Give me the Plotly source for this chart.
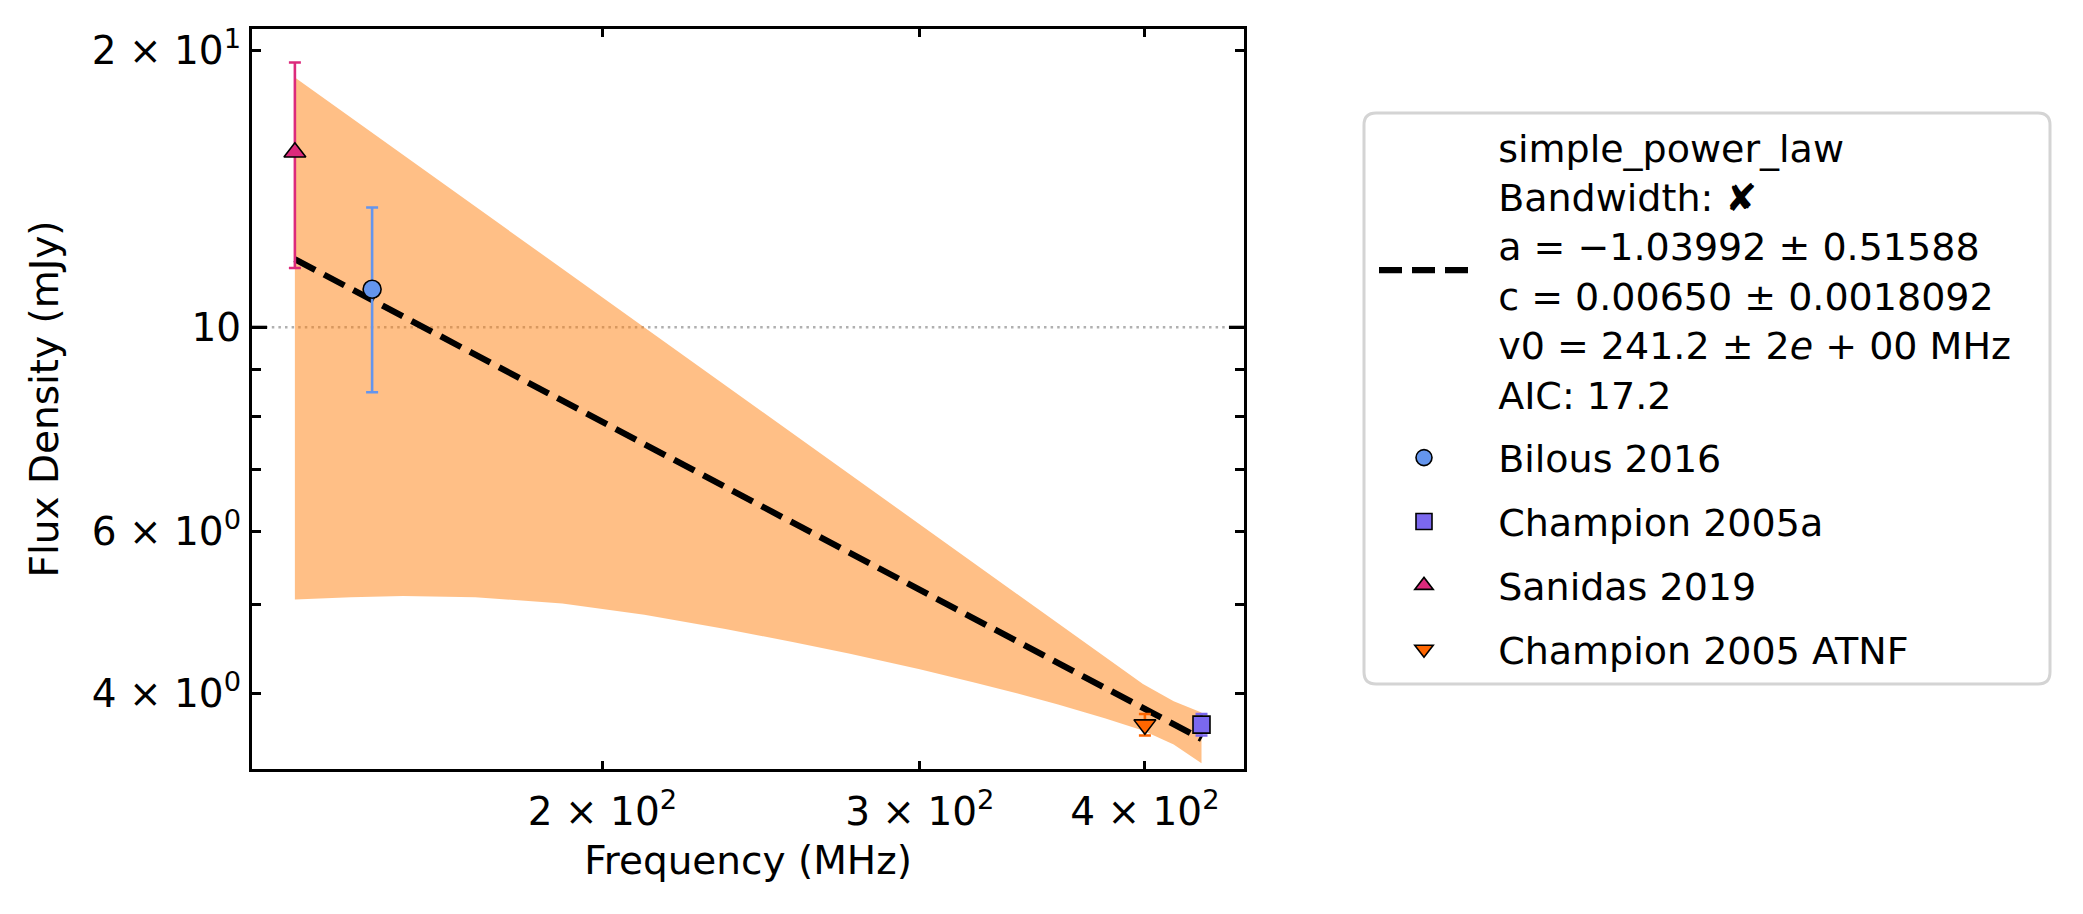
import math
import plotly.graph_objects as go

# ---------------- data ----------------
bilous_freq = [149]
bilous_flux = [11.0]
bilous_err = [2.5]

champ_a_freq = [430]
champ_a_flux = [3.7]
champ_a_err = [0.1]

sanidas_freq = [135]
sanidas_flux = [15.5]
sanidas_err = [3.9]

champ_atnf_freq = [400]
champ_atnf_flux = [3.7]
champ_atnf_err = [0.1]

fit_freq = [135, 430]
fit_flux = [11.86, 3.57]

band_freq = [135, 145, 155, 170, 190, 211, 234, 255, 274, 300, 322, 340, 358, 380, 399, 415, 430]
band_upper = [18.69, 16.91, 15.40, 13.53, 11.58, 10.0, 8.652, 7.671, 6.937, 6.108, 5.534, 5.127, 4.771, 4.387, 4.096, 3.923, 3.813]
band_lower = [5.06, 5.09, 5.105, 5.09, 5.01, 4.87, 4.70, 4.55, 4.42, 4.25, 4.11, 4.00, 3.89, 3.76, 3.645, 3.52, 3.36]

x_tickvals = [200, 300, 400]
x_ticktext = ["2 × 10<sup>2</sup>", "3 × 10<sup>2</sup>", "4 × 10<sup>2</sup>"]
y_tickvals = [4, 6, 10, 20]
y_ticktext = ["4 × 10<sup>0</sup>", "6 × 10<sup>0</sup>", "10", "2 × 10<sup>1</sup>"]
y_minor = [5, 7, 8, 9]
y_grid = 10

fit_lines = ["simple_power_law", "Bandwidth: ✘", "a = −1.03992 ± 0.51588",
             "c = 0.00650 ± 0.0018092", "v0 = 241.2 ± 2<i>e</i> + 00 MHz", "AIC: 17.2"]

x_range = [math.log10(127.8), math.log10(454)]
y_range = [math.log10(3.311), math.log10(21.10)]

FONT = "DejaVu Sans"
FS = 39
LFS = 38
PAD = "\u00a0\u00a0"  # gap between legend glyph and text

# plot area in pixels
L, R, T, B = 252, 1244, 29, 769
PW, PH = R - L, B - T


def px_x(p):
    return (p - L) / PW


def px_y(p):
    return (B - p) / PH


fig = go.Figure()

# uncertainty band
fig.add_trace(go.Scatter(
    x=band_freq + band_freq[::-1],
    y=band_upper + band_lower[::-1],
    fill="toself", fillcolor="rgba(255,127,14,0.5)",
    line=dict(width=0), mode="lines", hoverinfo="skip", showlegend=False))

# fit line
fig.add_trace(go.Scatter(
    x=fit_freq, y=fit_flux, mode="lines",
    name="<br>".join(PAD + s for s in fit_lines),
    line=dict(color="black", width=6.2, dash="23px,10px"),
    legendgroup="g0"))


def add_points(fx, fy, err, name, color, symbol, size, grp):
    fig.add_trace(go.Scatter(
        x=fx, y=fy, mode="markers", name=PAD + name, legendgroup=grp,
        marker=dict(color=color, symbol=symbol, size=size,
                    line=dict(color="black", width=1.6)),
        error_y=dict(type="data", array=err, visible=True, color=color,
                     thickness=2.6, width=6)))


add_points(bilous_freq, bilous_flux, bilous_err, "Bilous 2016", "#6495ED", "circle", 18, "g1")
add_points(champ_a_freq, champ_a_flux, champ_a_err, "Champion 2005a", "#7B68EE", "square", 17, "g2")
add_points(sanidas_freq, sanidas_flux, sanidas_err, "Sanidas 2019", "#DC2A7C", "triangle-up", 19, "g3")
add_points(champ_atnf_freq, champ_atnf_flux, champ_atnf_err, "Champion 2005 ATNF", "#FF6600", "triangle-down", 19, "g4")

axis_common = dict(
    showline=True, linecolor="black", linewidth=3.3, mirror="ticks",
    ticks="inside", tickcolor="black", showgrid=False, zeroline=False,
    tickfont=dict(family=FONT, size=FS, color="black"),
)

shapes = []
# dotted major grid line at 10 (below the traces)
shapes.append(dict(type="line", xref="paper", yref="y", x0=0, x1=1, y0=y_grid, y1=y_grid,
                   layer="below", line=dict(color="#b0b0b0", width=2.5, dash="2.5px,4.1px")))
# longer major tick at 10 on both sides
for xa, xb in [(0, 15 / PW), (1 - 15 / PW, 1)]:
    shapes.append(dict(type="line", xref="paper", yref="y", x0=xa, x1=xb, y0=y_grid, y1=y_grid,
                       layer="above", line=dict(color="black", width=3.3)))

# rounded legend frame
bx0, bx1, by0, by1 = 1364, 2050, 113, 684
rx, ry = 12 / PW, 12 / PH
X0, X1, Y0, Y1 = px_x(bx0), px_x(bx1), px_y(by1), px_y(by0)
path = (f"M {X0 + rx},{Y1} L {X1 - rx},{Y1} Q {X1},{Y1} {X1},{Y1 - ry} "
        f"L {X1},{Y0 + ry} Q {X1},{Y0} {X1 - rx},{Y0} L {X0 + rx},{Y0} "
        f"Q {X0},{Y0} {X0},{Y0 + ry} L {X0},{Y1 - ry} Q {X0},{Y1} {X0 + rx},{Y1} Z")
shapes.append(dict(type="path", xref="paper", yref="paper", path=path, layer="below",
                   fillcolor="white", line=dict(color="#d4d4d4", width=3)))

fig.update_layout(
    width=2083, height=914,
    margin=dict(l=L, r=2083 - R, t=T, b=914 - B, autoexpand=False),
    paper_bgcolor="white", plot_bgcolor="white",
    font=dict(family=FONT, size=FS, color="black"),
    xaxis=dict(
        type="log", range=x_range, tickmode="array",
        tickvals=x_tickvals, ticktext=x_ticktext, ticklen=8, tickwidth=2.5,
        ticklabelstandoff=6,
        title=dict(text="Frequency (MHz)", font=dict(family=FONT, size=FS), standoff=14),
        **axis_common),
    yaxis=dict(
        type="log", range=y_range, tickmode="array",
        tickvals=y_tickvals, ticktext=y_ticktext, ticklen=9, tickwidth=2.5,
        ticklabelstandoff=0,
        minor=dict(tickvals=y_minor, ticklen=9, tickwidth=2.5, ticks="inside",
                   tickcolor="black", showgrid=False),
        title=dict(text="Flux Density (mJy)", font=dict(family=FONT, size=FS), standoff=22),
        **axis_common),
    shapes=shapes,
    legend=dict(
        x=px_x(1374), y=px_y(115.5), xanchor="left", yanchor="top",
        bgcolor="rgba(0,0,0,0)", borderwidth=0,
        font=dict(family=FONT, size=LFS, color="black"),
        traceorder="grouped", tracegroupgap=11.5, itemwidth=90, valign="middle",
    ),
    showlegend=True,
)

fig.write_html("out.html")
